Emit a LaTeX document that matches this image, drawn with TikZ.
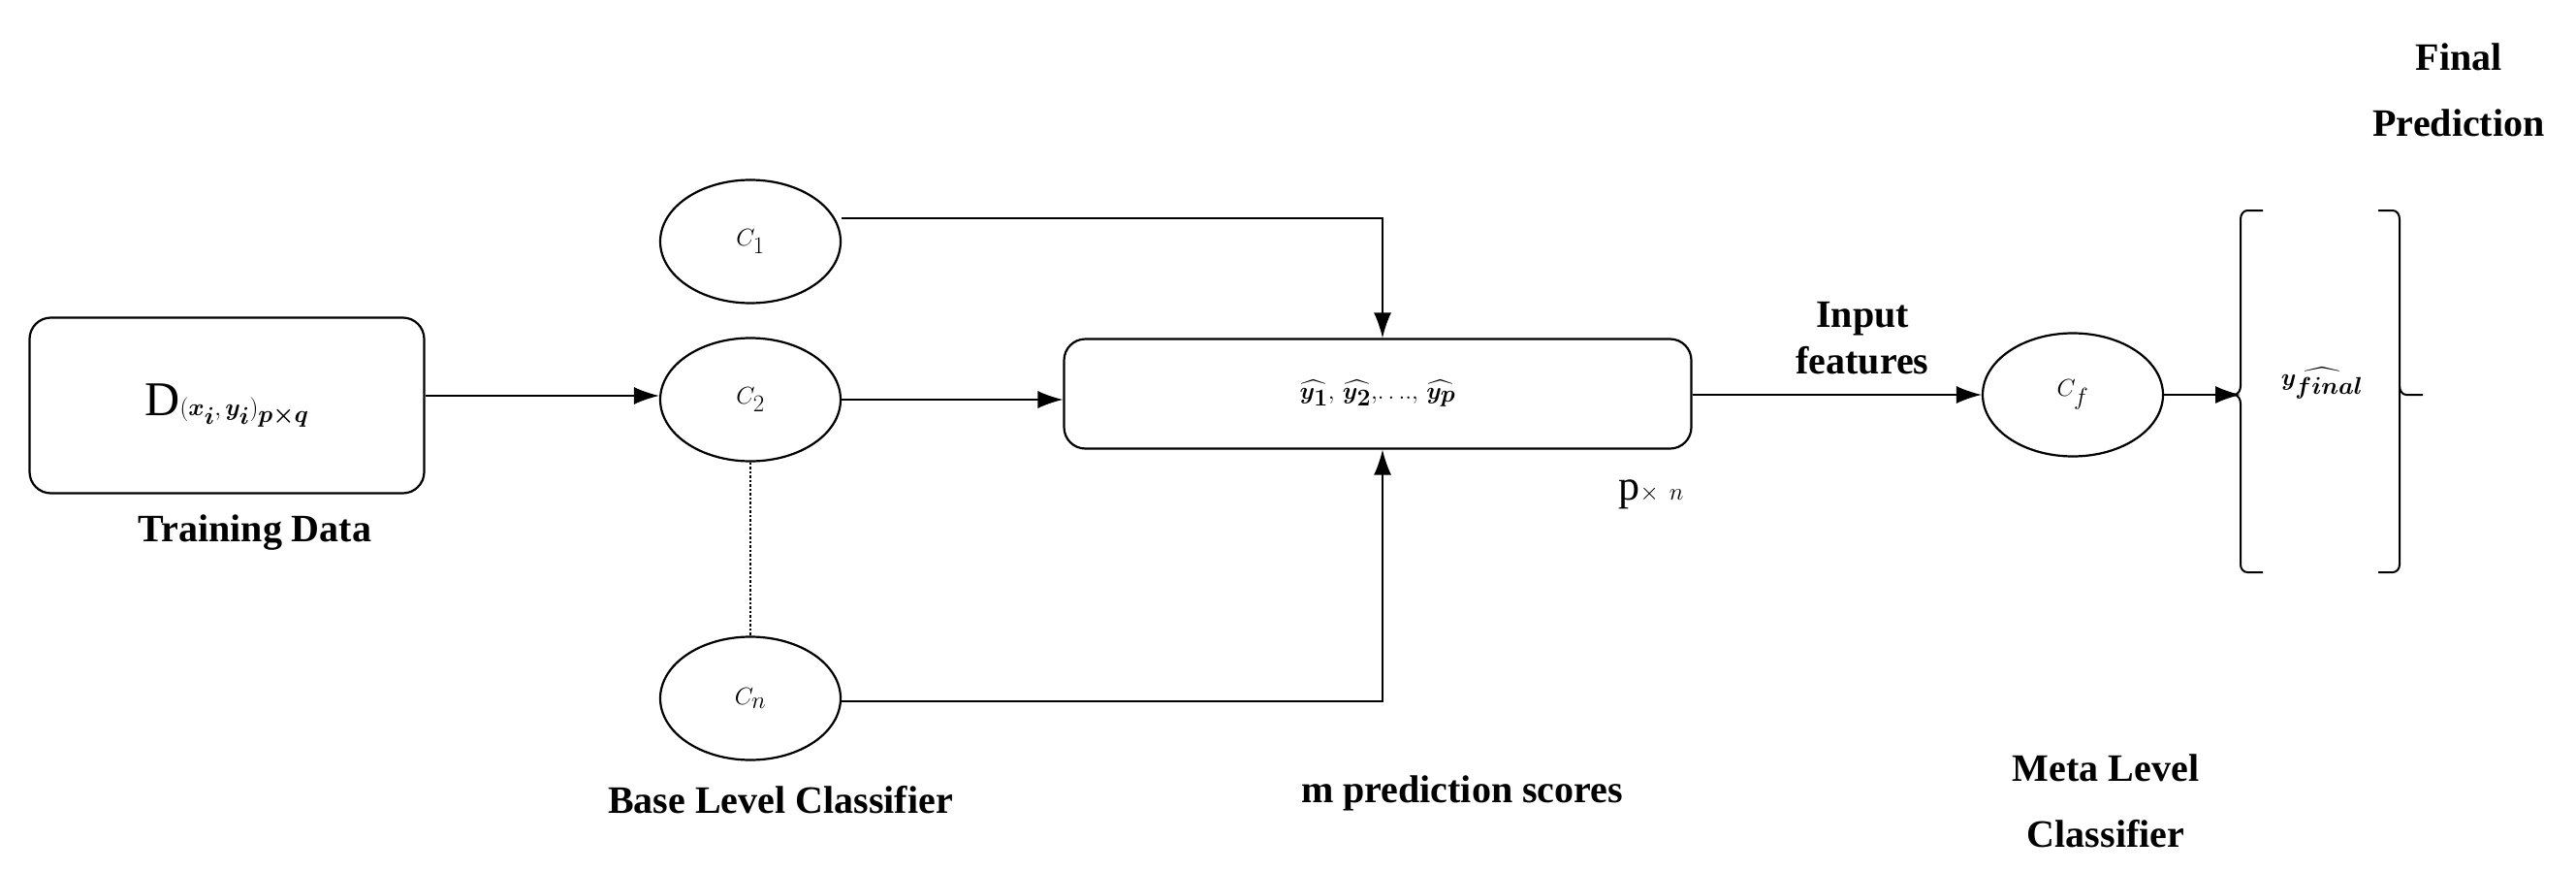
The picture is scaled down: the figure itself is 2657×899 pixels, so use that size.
\documentclass[tikz,border=0pt]{standalone}
\usepackage{amsmath,bm}
\usepackage{fontspec}
\setmainfont{Liberation Serif}
\usetikzlibrary{arrows.meta,shapes.geometric}
\begin{document}
\begin{tikzpicture}[x=1pt,y=-1pt,
  every node/.style={inner sep=0pt},
  ell/.style={draw,ellipse,line width=2.2pt,minimum width=186pt,minimum height=127pt,font=\fontsize{50}{60}\selectfont},
  box/.style={draw,rounded corners=22pt,line width=2.2pt},
  lab/.style={font=\fontsize{40}{46}\selectfont\bfseries,align=center},
  arr/.style={line width=1.6pt,-{Latex[length=26pt,width=18pt]}}]
\useasboundingbox (0,0) rectangle (2657,899);
\node[box,minimum width=407pt,minimum height=181pt,font=\fontsize{50}{60}\selectfont] (D) at (234,418) {$\mathrm{D}(\bm{x_i},\bm{y_i})_{\bm{p\times q}}$};
\node[lab] (td) at (263,549) {Training Data};
\node[ell] (c1) at (774,249) {$C_1$};
\node[ell] (c2) at (774,412) {$C_2$};
\node[ell] (cn) at (774,720) {$C_n$};
\node[lab] (blc) at (805,825) {Base Level Classifier};
\node[box,minimum width=647pt,minimum height=113pt,font=\fontsize{54}{60}\selectfont] (Y) at (1421,406) {$\widehat{\bm{y_1}},\,\widehat{\bm{y_2}},\!\ldots\!.,\,\widehat{\bm{y_p}}$};
\node[font=\fontsize{44}{50}\selectfont] (pn) at (1703,510) {p$\times$ $n$};
\node[lab] (mps) at (1508,818) {m prediction scores};
\node[lab,font=\fontsize{40}{48}\selectfont\bfseries] (if) at (1921,349) {Input\\features};
\node[ell] (cf) at (2138,407) {$C_f$};
\node[lab,font=\fontsize{40}{68}\selectfont\bfseries] (mlc) at (2172,826) {Meta Level\\Classifier};
\node[lab,font=\fontsize{40}{68}\selectfont\bfseries] (fp) at (2536,93) {Final\\Prediction};
\coordinate (bl) at (2311,407);
\node[font=\fontsize{50}{60}\selectfont] (yf) at (2395,395) {$\widehat{\bm{y_{final}}}$};
% brackets
\draw[line width=2pt] (2334,217) -- (2318,217) to[out=180,in=90] (2311,226) -- (2311,398) to[out=-90,in=0] (2304,407) to[out=0,in=90] (2311,416) -- (2311,582) to[out=-90,in=180] (2318,590) -- (2334,590);
\draw[line width=2pt] (2453,217) -- (2468,217) to[out=0,in=90] (2475,226) -- (2475,398) to[out=-90,in=180] (2482,407) -- (2499,407);
\draw[line width=2pt] (2475,398) -- (2475,582) to[out=-90,in=0] (2468,590) -- (2453,590);
% connectors
\draw[arr] (D.east |- 0,408) -- (c2.west |- 0,408);
\draw[arr] (c2.east) -- (Y.west |- c2.east);
\draw[arr] (c1.east |- 0,225) -| (1426,0 |- Y.north);
\draw[arr] (cn.east |- 0,723) -| (1426,0 |- Y.south);
\draw[line width=2.5pt,dotted] (c2.south) -- (cn.north);
\draw[arr] (Y.east |- cf.west) -- (cf.west);
\draw[arr] (cf.east) -- (bl);
\end{tikzpicture}
\end{document}
